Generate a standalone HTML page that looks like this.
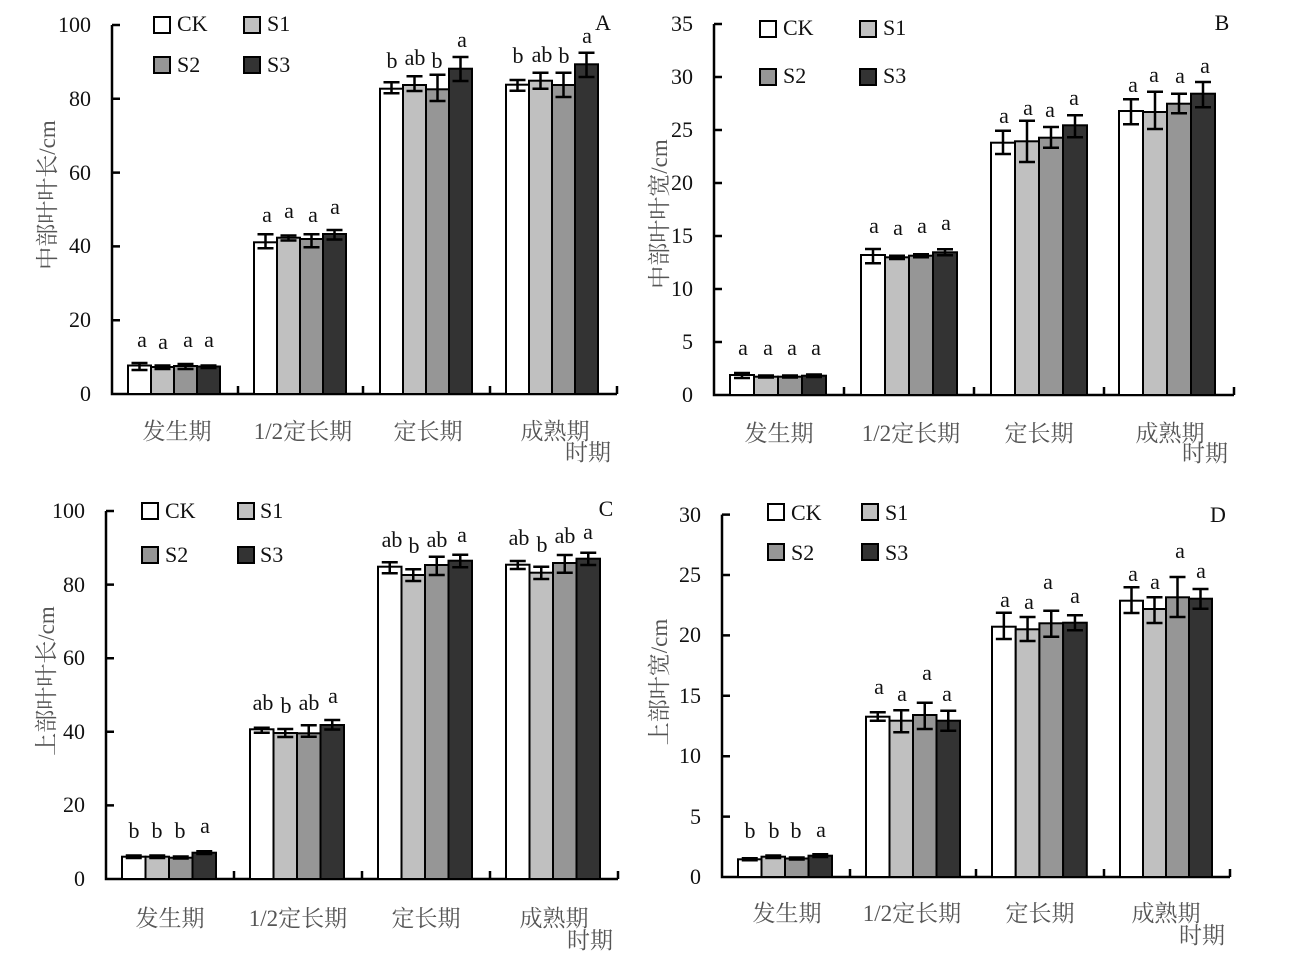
<!DOCTYPE html>
<html><head><meta charset="utf-8"><style>
html,body{margin:0;padding:0;background:#fff;}
svg{display:block;}
text{font-family:"Liberation Serif","Noto Serif CJK SC",serif;font-size:22px;fill:#111;}
.t{text-anchor:end;}
.m{text-anchor:middle;}
.cj{font-family:"Liberation Serif","Noto Serif CJK SC",serif;font-size:23px;fill:#555;text-anchor:middle;}
.yl{font-family:"Liberation Serif","Noto Serif CJK SC",serif;font-size:23px;fill:#555;text-anchor:middle;}
.ax{stroke:#000;stroke-width:2.5;fill:none;}
.eb{stroke:#000;stroke-width:2.5;fill:none;}
.bar{stroke:#000;stroke-width:2;}
.ck{fill:#fff}.s1{fill:#c0c0c0}.s2{fill:#969696}.s3{fill:#333}
</style></head><body>
<svg width="1302" height="970" viewBox="0 0 1302 970" xmlns="http://www.w3.org/2000/svg">

<!-- ================= PANEL A ================= -->
<g>
<path class="ax" d="M112 25 V394 H617 M112 25 H120 M112 98.8 H120 M112 172.6 H120 M112 246.4 H120 M112 320.2 H120 M238 394 V386 M363 394 V386 M490 394 V386 M617 394 V386"/>
<text class="t" x="91" y="401">0</text>
<text class="t" x="91" y="327">20</text>
<text class="t" x="91" y="253">40</text>
<text class="t" x="91" y="180">60</text>
<text class="t" x="91" y="106">80</text>
<text class="t" x="91" y="32">100</text>
<rect class="bar ck" x="128" y="365.5" width="23" height="28.5"/>
<rect class="bar s1" x="151" y="367" width="23" height="27"/>
<rect class="bar s2" x="174" y="366" width="23" height="28"/>
<rect class="bar s3" x="197" y="366.5" width="23" height="27.5"/>
<rect class="bar ck" x="254" y="242.3" width="23" height="151.7"/>
<rect class="bar s1" x="277" y="237.7" width="23" height="156.3"/>
<rect class="bar s2" x="300" y="239" width="23" height="155"/>
<rect class="bar s3" x="323" y="234" width="23" height="160"/>
<rect class="bar ck" x="380" y="88.7" width="23" height="305.3"/>
<rect class="bar s1" x="403" y="85" width="23" height="309"/>
<rect class="bar s2" x="426" y="89.3" width="23" height="304.7"/>
<rect class="bar s3" x="449" y="68.7" width="23" height="325.3"/>
<rect class="bar ck" x="506" y="84.7" width="23" height="309.3"/>
<rect class="bar s1" x="529" y="80.7" width="23" height="313.3"/>
<rect class="bar s2" x="552" y="85" width="23" height="309"/>
<rect class="bar s3" x="575" y="64.3" width="23" height="329.7"/>
<path class="eb" d="
M131.5 363H147.5M139.5 363V370M131.5 370H147.5
M154.5 365.5H170.5M162.5 365.5V369M154.5 369H170.5
M177.5 364H193.5M185.5 364V369M177.5 369H193.5
M200.5 365.5H216.5M208.5 365.5V368M200.5 368H216.5
M257.5 234.3H273.5M265.5 234.3V248.3M257.5 248.3H273.5
M280.5 235.5H296.5M288.5 235.5V240.5M280.5 240.5H296.5
M303.5 234.3H319.5M311.5 234.3V247.3M303.5 247.3H319.5
M326.5 230H342.5M334.5 230V239.5M326.5 239.5H342.5
M383.5 82.3H399.5M391.5 82.3V93.3M383.5 93.3H399.5
M406.5 76.3H422.5M414.5 76.3V91M406.5 91H422.5
M429.5 74.7H445.5M437.5 74.7V101M429.5 101H445.5
M452.5 57H468.5M460.5 57V81M452.5 81H468.5
M509.5 80H525.5M517.5 80V90.7M509.5 90.7H525.5
M532.5 72.7H548.5M540.5 72.7V88.7M532.5 88.7H548.5
M555.5 72.7H571.5M563.5 72.7V97M555.5 97H571.5
M578.5 52.7H594.5M586.5 52.7V77M578.5 77H594.5"/>
<text class="m" x="142" y="347">a</text><text class="m" x="163" y="349">a</text><text class="m" x="188" y="347">a</text><text class="m" x="209" y="347">a</text>
<text class="m" x="267" y="222">a</text><text class="m" x="289" y="218">a</text><text class="m" x="313" y="222">a</text><text class="m" x="335" y="214">a</text>
<text class="m" x="392" y="68">b</text><text class="m" x="415" y="65">ab</text><text class="m" x="437" y="68">b</text><text class="m" x="462" y="47">a</text>
<text class="m" x="518" y="63">b</text><text class="m" x="542" y="62">ab</text><text class="m" x="564" y="63">b</text><text class="m" x="587" y="43">a</text>
<text class="m" x="603" y="30">A</text>
<rect class="bar ck" x="154" y="17" width="16" height="16"/><text x="177" y="31">CK</text>
<rect class="bar s1" x="244" y="17" width="16" height="16"/><text x="267" y="31">S1</text>
<rect class="bar s2" x="154" y="57" width="16" height="16"/><text x="177" y="72">S2</text>
<rect class="bar s3" x="244" y="57" width="16" height="16"/><text x="267" y="72">S3</text>
<text class="cj" x="177" y="439">发生期</text>
<text class="cj" x="303" y="439">1/2定长期</text>
<text class="cj" x="428" y="439">定长期</text>
<text class="cj" x="555" y="439">成熟期</text>
<text class="cj" x="588" y="460">时期</text>
<text class="yl" transform="translate(55,195) rotate(-90)">中部叶叶长/cm</text>
</g>

<!-- ================= PANEL B ================= -->
<g>
<path class="ax" d="M714 24 V395 H1234 M714 24 H722 M714 77 H722 M714 130 H722 M714 183 H722 M714 236 H722 M714 289 H722 M714 342 H722 M844 395 V387 M974 395 V387 M1104 395 V387 M1234 395 V387"/>
<text class="t" x="693" y="402">0</text>
<text class="t" x="693" y="349">5</text>
<text class="t" x="693" y="296">10</text>
<text class="t" x="693" y="243">15</text>
<text class="t" x="693" y="190">20</text>
<text class="t" x="693" y="137">25</text>
<text class="t" x="693" y="84">30</text>
<text class="t" x="693" y="31">35</text>
<rect class="bar ck" x="730" y="375" width="24" height="20"/>
<rect class="bar s1" x="754" y="376.7" width="24" height="18.3"/>
<rect class="bar s2" x="778" y="376.7" width="24" height="18.3"/>
<rect class="bar s3" x="802" y="375.7" width="24" height="19.3"/>
<rect class="bar ck" x="861" y="255" width="24" height="140"/>
<rect class="bar s1" x="885" y="257.3" width="24" height="137.7"/>
<rect class="bar s2" x="909" y="255.7" width="24" height="139.3"/>
<rect class="bar s3" x="933" y="252.3" width="24" height="142.7"/>
<rect class="bar ck" x="991" y="142.7" width="24" height="252.3"/>
<rect class="bar s1" x="1015" y="141.3" width="24" height="253.7"/>
<rect class="bar s2" x="1039" y="137.7" width="24" height="257.3"/>
<rect class="bar s3" x="1063" y="125.3" width="24" height="269.7"/>
<rect class="bar ck" x="1119" y="111" width="24" height="284"/>
<rect class="bar s1" x="1143" y="112" width="24" height="283"/>
<rect class="bar s2" x="1167" y="103.7" width="24" height="291.3"/>
<rect class="bar s3" x="1191" y="93.7" width="24" height="301.3"/>
<path class="eb" d="
M734 373H750M742 373V378M734 378H750
M758 375.5H774M766 375.5V377.5M758 377.5H774
M782 375.5H798M790 375.5V377.5M782 377.5H798
M806 374.5H822M814 374.5V377M806 377H822
M865 249H881M873 249V263.3M865 263.3H881
M889 255.7H905M897 255.7V259M889 259H905
M913 254.3H929M921 254.3V257.3M913 257.3H929
M937 249.3H953M945 249.3V255.3M937 255.3H953
M995 130.7H1011M1003 130.7V154M995 154H1011
M1019 120.7H1035M1027 120.7V162M1019 162H1035
M1043 127H1059M1051 127V147.7M1043 147.7H1059
M1067 115.3H1083M1075 115.3V137.3M1067 137.3H1083
M1123 99.3H1139M1131 99.3V124.3M1123 124.3H1139
M1147 91.7H1163M1155 91.7V129M1147 129H1163
M1171 93.7H1187M1179 93.7V113.3M1171 113.3H1187
M1195 82H1211M1203 82V107.3M1195 107.3H1211"/>
<text class="m" x="743" y="355">a</text><text class="m" x="768" y="355">a</text><text class="m" x="792" y="355">a</text><text class="m" x="816" y="355">a</text>
<text class="m" x="874" y="233">a</text><text class="m" x="898" y="235">a</text><text class="m" x="922" y="233">a</text><text class="m" x="946" y="230">a</text>
<text class="m" x="1004" y="123">a</text><text class="m" x="1028" y="115">a</text><text class="m" x="1050" y="117">a</text><text class="m" x="1074" y="105">a</text>
<text class="m" x="1133" y="92">a</text><text class="m" x="1154" y="82">a</text><text class="m" x="1180" y="83">a</text><text class="m" x="1205" y="73">a</text>
<text class="m" x="1222" y="30">B</text>
<rect class="bar ck" x="760" y="21" width="16" height="16"/><text x="783" y="35">CK</text>
<rect class="bar s1" x="860" y="21" width="16" height="16"/><text x="883" y="35">S1</text>
<rect class="bar s2" x="760" y="69" width="16" height="16"/><text x="783" y="83">S2</text>
<rect class="bar s3" x="860" y="69" width="16" height="16"/><text x="883" y="83">S3</text>
<text class="cj" x="779" y="441">发生期</text>
<text class="cj" x="911" y="441">1/2定长期</text>
<text class="cj" x="1039" y="441">定长期</text>
<text class="cj" x="1170" y="441">成熟期</text>
<text class="cj" x="1205" y="461">时期</text>
<text class="yl" transform="translate(667,214) rotate(-90)">中部叶叶宽/cm</text>
</g>

<!-- ================= PANEL C ================= -->
<g>
<path class="ax" d="M106 511 V879 H618 M106 511 H114 M106 584.6 H114 M106 658.2 H114 M106 731.8 H114 M106 805.4 H114 M234 879 V871 M362 879 V871 M490 879 V871 M618 879 V871"/>
<text class="t" x="85" y="886">0</text>
<text class="t" x="85" y="812">20</text>
<text class="t" x="85" y="739">40</text>
<text class="t" x="85" y="665">60</text>
<text class="t" x="85" y="592">80</text>
<text class="t" x="85" y="518">100</text>
<rect class="bar ck" x="122" y="856.7" width="23.5" height="22.3"/>
<rect class="bar s1" x="145.5" y="856.7" width="23.5" height="22.3"/>
<rect class="bar s2" x="169" y="857.7" width="23.5" height="21.3"/>
<rect class="bar s3" x="192.5" y="852.7" width="23.5" height="26.3"/>
<rect class="bar ck" x="250" y="729.3" width="23.5" height="149.7"/>
<rect class="bar s1" x="273.5" y="733" width="23.5" height="146"/>
<rect class="bar s2" x="297" y="733.3" width="23.5" height="145.7"/>
<rect class="bar s3" x="320.5" y="725" width="23.5" height="154"/>
<rect class="bar ck" x="378" y="566.7" width="23.5" height="312.3"/>
<rect class="bar s1" x="401.5" y="575" width="23.5" height="304"/>
<rect class="bar s2" x="425" y="565" width="23.5" height="314"/>
<rect class="bar s3" x="448.5" y="560.7" width="23.5" height="318.3"/>
<rect class="bar ck" x="506" y="564.7" width="23.5" height="314.3"/>
<rect class="bar s1" x="529.5" y="572.7" width="23.5" height="306.3"/>
<rect class="bar s2" x="553" y="563" width="23.5" height="316"/>
<rect class="bar s3" x="576.5" y="558.7" width="23.5" height="320.3"/>
<path class="eb" d="
M125.75 855.5H141.75M133.75 855.5V858M125.75 858H141.75
M149.25 855.5H165.25M157.25 855.5V858M149.25 858H165.25
M172.75 856.5H188.75M180.75 856.5V858.5M172.75 858.5H188.75
M196.25 851.3H212.25M204.25 851.3V854M196.25 854H212.25
M253.75 727.7H269.75M261.75 727.7V732.7M253.75 732.7H269.75
M277.25 729H293.25M285.25 729V737M277.25 737H293.25
M300.75 725.3H316.75M308.75 725.3V736.7M300.75 736.7H316.75
M324.25 720H340.25M332.25 720V729.5M324.25 729.5H340.25
M381.75 562.3H397.75M389.75 562.3V573.3M381.75 573.3H397.75
M405.25 569.3H421.25M413.25 569.3V581M405.25 581H421.25
M428.75 556.7H444.75M436.75 556.7V575M428.75 575H444.75
M452.25 554.7H468.25M460.25 554.7V567.3M452.25 567.3H468.25
M509.75 561H525.75M517.75 561V569M509.75 569H525.75
M533.25 566.7H549.25M541.25 566.7V579M533.25 579H549.25
M556.75 555H572.75M564.75 555V572.7M556.75 572.7H572.75
M580.25 552.7H596.25M588.25 552.7V565M580.25 565H596.25"/>
<text class="m" x="134" y="838">b</text><text class="m" x="157" y="838">b</text><text class="m" x="180" y="838">b</text><text class="m" x="205" y="833">a</text>
<text class="m" x="263" y="710">ab</text><text class="m" x="286" y="713">b</text><text class="m" x="309" y="710">ab</text><text class="m" x="333" y="703">a</text>
<text class="m" x="392" y="547">ab</text><text class="m" x="414" y="553">b</text><text class="m" x="437" y="547">ab</text><text class="m" x="462" y="542">a</text>
<text class="m" x="519" y="545">ab</text><text class="m" x="542" y="552">b</text><text class="m" x="565" y="543">ab</text><text class="m" x="588" y="539">a</text>
<text class="m" x="606" y="516">C</text>
<rect class="bar ck" x="142" y="503" width="16" height="16"/><text x="165" y="518">CK</text>
<rect class="bar s1" x="238" y="503" width="16" height="16"/><text x="260" y="518">S1</text>
<rect class="bar s2" x="142" y="547" width="16" height="16"/><text x="165" y="562">S2</text>
<rect class="bar s3" x="238" y="547" width="16" height="16"/><text x="260" y="562">S3</text>
<text class="cj" x="170" y="926">发生期</text>
<text class="cj" x="298" y="926">1/2定长期</text>
<text class="cj" x="426" y="926">定长期</text>
<text class="cj" x="554" y="926">成熟期</text>
<text class="cj" x="590" y="948">时期</text>
<text class="yl" transform="translate(54,681) rotate(-90)">上部叶叶长/cm</text>
</g>

<!-- ================= PANEL D ================= -->
<g>
<path class="ax" d="M722 514.6 V877 H1230 M722 514.6 H730 M722 575 H730 M722 635.4 H730 M722 695.8 H730 M722 756.2 H730 M722 816.6 H730 M850 877 V869 M976 877 V869 M1104 877 V869 M1230 877 V869"/>
<text class="t" x="701" y="884">0</text>
<text class="t" x="701" y="824">5</text>
<text class="t" x="701" y="763">10</text>
<text class="t" x="701" y="703">15</text>
<text class="t" x="701" y="642">20</text>
<text class="t" x="701" y="582">25</text>
<text class="t" x="701" y="522">30</text>
<rect class="bar ck" x="738" y="859.3" width="23.5" height="17.7"/>
<rect class="bar s1" x="761.5" y="856.7" width="23.5" height="20.3"/>
<rect class="bar s2" x="785" y="858.5" width="23.5" height="18.5"/>
<rect class="bar s3" x="808.5" y="855.7" width="23.5" height="21.3"/>
<rect class="bar ck" x="866" y="716.7" width="23.5" height="160.3"/>
<rect class="bar s1" x="889.5" y="720.7" width="23.5" height="156.3"/>
<rect class="bar s2" x="913" y="715" width="23.5" height="162"/>
<rect class="bar s3" x="936.5" y="720.7" width="23.5" height="156.3"/>
<rect class="bar ck" x="992" y="626.7" width="23.7" height="250.3"/>
<rect class="bar s1" x="1015.7" y="629.3" width="23.7" height="247.7"/>
<rect class="bar s2" x="1039.4" y="623.3" width="23.7" height="253.7"/>
<rect class="bar s3" x="1063.1" y="622.7" width="23.7" height="254.3"/>
<rect class="bar ck" x="1120" y="600.7" width="23" height="276.3"/>
<rect class="bar s1" x="1143" y="609" width="23" height="268"/>
<rect class="bar s2" x="1166" y="597.3" width="23" height="279.7"/>
<rect class="bar s3" x="1189" y="598.7" width="23" height="278.3"/>
<path class="eb" d="
M741.75 858.3H757.75M749.75 858.3V860.3M741.75 860.3H757.75
M765.25 855.5H781.25M773.25 855.5V858M765.25 858H781.25
M788.75 857.5H804.75M796.75 857.5V859.5M788.75 859.5H804.75
M812.25 854.3H828.25M820.25 854.3V857M812.25 857H828.25
M869.75 712.3H885.75M877.75 712.3V720.7M869.75 720.7H885.75
M893.25 710.3H909.25M901.25 710.3V732.3M893.25 732.3H909.25
M916.75 702.7H932.75M924.75 702.7V729M916.75 729H932.75
M940.25 710.7H956.25M948.25 710.7V730.7M940.25 730.7H956.25
M995.85 612.7H1011.85M1003.85 612.7V639M995.85 639H1011.85
M1019.55 617H1035.55M1027.55 617V641M1019.55 641H1035.55
M1043.25 610.7H1059.25M1051.25 610.7V636.7M1043.25 636.7H1059.25
M1066.95 615.3H1082.95M1074.95 615.3V630.3M1066.95 630.3H1082.95
M1123.5 587.3H1139.5M1131.5 587.3V613M1123.5 613H1139.5
M1146.5 597.3H1162.5M1154.5 597.3V623M1146.5 623H1162.5
M1169.5 577H1185.5M1177.5 577V617M1169.5 617H1185.5
M1192.5 589H1208.5M1200.5 589V608.7M1192.5 608.7H1208.5"/>
<text class="m" x="750" y="838">b</text><text class="m" x="774" y="838">b</text><text class="m" x="796" y="838">b</text><text class="m" x="821" y="837">a</text>
<text class="m" x="879" y="694">a</text><text class="m" x="902" y="701">a</text><text class="m" x="927" y="680">a</text><text class="m" x="947" y="701">a</text>
<text class="m" x="1005" y="607">a</text><text class="m" x="1029" y="609">a</text><text class="m" x="1048" y="589">a</text><text class="m" x="1075" y="603">a</text>
<text class="m" x="1133" y="581">a</text><text class="m" x="1155" y="589">a</text><text class="m" x="1180" y="558">a</text><text class="m" x="1201" y="578">a</text>
<text class="m" x="1218" y="522">D</text>
<rect class="bar ck" x="768" y="504" width="16" height="16"/><text x="791" y="520">CK</text>
<rect class="bar s1" x="862" y="504" width="16" height="16"/><text x="885" y="520">S1</text>
<rect class="bar s2" x="768" y="544" width="16" height="16"/><text x="791" y="560">S2</text>
<rect class="bar s3" x="862" y="544" width="16" height="16"/><text x="885" y="560">S3</text>
<text class="cj" x="787" y="921">发生期</text>
<text class="cj" x="912" y="921">1/2定长期</text>
<text class="cj" x="1040" y="921">定长期</text>
<text class="cj" x="1166" y="921">成熟期</text>
<text class="cj" x="1202" y="943">时期</text>
<text class="yl" transform="translate(667,682) rotate(-90)">上部叶宽/cm</text>
</g>
</svg>
</body></html>
